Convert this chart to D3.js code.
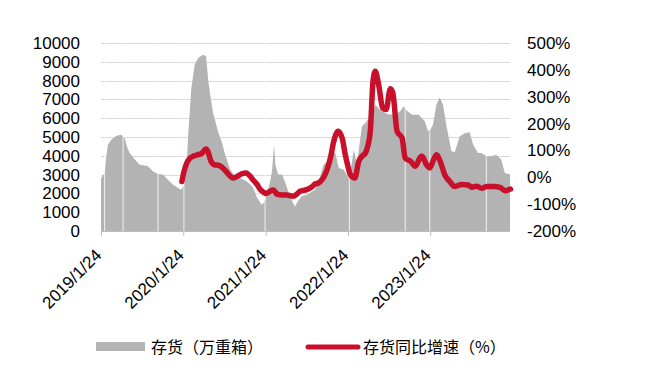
<!DOCTYPE html>
<html>
<head>
<meta charset="utf-8">
<script src="https://cdn.jsdelivr.net/npm/d3@7"></script>
<style>
    body { margin: 0; background: #fff; }
    .axis-label { font-family: "Liberation Sans", Arial, sans-serif; font-size: 17px; fill: #000; }
    .legend-text { font-family: "Noto Sans CJK SC", sans-serif; font-size: 16px; fill: #000; }
</style>
</head>
<body>
<div class="svg-container"></div>
<script>
// inventory (万重箱), roughly weekly readings
var invDates = ["2019-01-24","2019-02-09","2019-02-17","2019-02-24","2019-03-11","2019-04-02","2019-04-24","2019-05-09","2019-05-19","2019-05-31",
    "2019-06-23","2019-07-15","2019-08-06","2019-08-21","2019-09-12","2019-10-04","2019-10-26","2019-11-17","2019-12-10","2020-01-01",
    "2020-01-15","2020-01-27","2020-02-07","2020-02-14","2020-02-29","2020-03-15","2020-03-30","2020-04-21","2020-05-04","2020-05-14",
    "2020-05-22","2020-06-04","2020-06-26","2020-07-14","2020-07-27","2020-08-18","2020-09-10","2020-10-02","2020-10-24","2020-11-15",
    "2020-11-29","2020-12-16","2021-01-06","2021-01-16","2021-01-30","2021-02-12","2021-02-21","2021-03-02","2021-03-08","2021-03-20",
    "2021-04-06","2021-04-20","2021-05-07","2021-05-21","2021-06-03","2021-06-16","2021-07-03","2021-07-17","2021-07-31","2021-08-17",
    "2021-08-31","2021-09-16","2021-10-08","2021-10-23","2021-11-07","2021-11-29","2021-12-14","2022-01-05","2022-01-27","2022-02-07",
    "2022-02-19","2022-03-05","2022-03-18","2022-03-27","2022-04-11","2022-05-03","2022-05-25","2022-06-11","2022-06-24","2022-07-24",
    "2022-08-22","2022-09-13","2022-09-28","2022-10-13","2022-11-04","2022-12-04","2022-12-31","2023-01-14","2023-01-25","2023-02-05",
    "2023-02-20","2023-03-07","2023-03-22","2023-04-05","2023-04-28","2023-05-13","2023-06-04","2023-06-26","2023-07-18","2023-08-02",
    "2023-08-24","2023-09-08","2023-09-30","2023-10-22","2023-11-13","2023-12-05","2023-12-21","2024-01-13"];
var invValues = [2800,3100,4000,4600,4860,5070,5120,4950,4500,4150,
    3800,3530,3490,3440,3170,3030,3000,2730,2460,2290,
    2200,2460,3200,4950,7600,8850,9200,9380,9300,8000,
    7300,6300,5300,4700,4100,3300,2900,2800,2700,2500,
    2300,1800,1400,1500,2000,2600,3200,4600,3500,3000,
    3000,2600,2000,1600,1300,1600,1850,1900,1950,2100,
    2200,2640,3530,3700,4240,4150,3350,3260,2800,3400,
    4320,3500,4800,5570,5740,6100,6700,6500,6370,6200,
    6200,6370,6630,6400,6190,6190,5830,5300,5400,5650,
    6700,7100,6700,5650,4240,4200,5040,5200,5250,4600,
    4150,4150,3970,3970,4060,3800,3080,3000];

// weeks with no inventory reading (white gaps in the bars)
var gapDates = ["2019-02-09","2019-05-02","2019-10-04","2020-01-27","2021-01-21","2022-01-30","2022-10-05","2023-01-22","2023-09-30"];

// inventory yoy growth (%)
var yoyDates = ["2020-01-18","2020-01-27","2020-02-08","2020-02-23","2020-03-07","2020-03-24","2020-04-15","2020-05-04","2020-05-13","2020-05-26",
    "2020-06-13","2020-06-28","2020-07-13","2020-08-01","2020-08-18","2020-09-02","2020-09-23","2020-10-11","2020-10-28","2020-11-15",
    "2020-11-29","2020-12-15","2020-12-30","2021-01-13","2021-01-25","2021-02-12","2021-02-28","2021-03-15","2021-04-06","2021-04-28",
    "2021-05-26","2021-06-12","2021-06-25","2021-07-25","2021-08-16","2021-08-31","2021-09-13","2021-10-01","2021-10-14","2021-10-23",
    "2021-11-07","2021-11-22","2021-12-11","2021-12-29","2022-01-12","2022-01-24","2022-02-03","2022-02-23","2022-03-13","2022-03-27",
    "2022-04-11","2022-04-23","2022-05-03","2022-05-15","2022-05-25","2022-06-09","2022-06-27","2022-07-12","2022-07-31","2022-08-11",
    "2022-08-30","2022-09-21","2022-10-05","2022-10-28","2022-11-19","2022-12-11","2022-12-19","2023-01-07","2023-01-22","2023-02-05",
    "2023-02-21","2023-03-11","2023-03-29","2023-04-20","2023-05-13","2023-06-11","2023-07-11","2023-07-27","2023-08-18","2023-09-10",
    "2023-10-02","2023-10-31","2023-11-30","2023-12-22","2024-01-15"];
var yoyValues = [-16,20,52,71,78,83,89,105,95,60,
    46,45,38,22,5,-3,5,14,16,5,
    -10,-25,-45,-55,-60,-52,-47,-63,-66,-66,
    -71,-62,-52,-46,-36,-25,-22,-9,10,28,
    72,134,171,146,84,40,10,-3,60,78,
    90,120,171,357,395,345,258,252,330,314,
    171,146,72,60,41,75,78,47,35,60,
    84,55,10,-15,-34,-27,-29,-37,-33,-41,
    -34,-34,-38,-50,-44];

var xTickDates = ["2019-01-24","2020-01-24","2021-01-24","2022-01-24","2023-01-24"];
var leftTicks = [0,1000,2000,3000,4000,5000,6000,7000,8000,9000,10000];
var rightTicks = [-200,-100,0,100,200,300,400,500];
var legendNames = ["存货（万重箱）","存货同比增速（%）"];

function render() {
    var parse = d3.timeParse("%Y-%m-%d");
    var inv = invDates.map(function(d, i) { return {date: parse(d), value: invValues[i]}; });
    var yoy = yoyDates.map(function(d, i) { return {date: parse(d), value: yoyValues[i]}; });

    var width = 663, height = 375;
    var plotLeft = 101, plotRight = 512.5, plotTop = 43, plotBottom = 231;

    var svg = d3.select(".svg-container").append("svg")
        .attr("width", width)
        .attr("height", height);

    var x = d3.scaleTime()
        .domain([parse("2019-01-24"), parse("2024-01-24")])
        .range([plotLeft, plotRight]);
    var y = d3.scaleLinear().domain([0, 10000]).range([plotBottom, plotTop]);
    var y2 = d3.scaleLinear().domain([-200, 500]).range([plotBottom, plotTop]);

    var xEnd = x(inv[inv.length - 1].date);

    // gridlines
    svg.append("g")
        .selectAll("line")
        .data(leftTicks.slice(1))
        .enter().append("line")
        .attr("x1", plotLeft).attr("x2", xEnd)
        .attr("y1", function(d) { return Math.round(y(d)) + 0.5; })
        .attr("y2", function(d) { return Math.round(y(d)) + 0.5; })
        .attr("stroke", "#d9d9d9")
        .attr("stroke-width", 1)
        .attr("shape-rendering", "crispEdges");

    // inventory area
    var area = d3.area()
        .x(function(d) { return x(d.date); })
        .y0(y(0))
        .y1(function(d) { return y(d.value); });

    svg.append("path")
        .datum(inv)
        .attr("d", area)
        .attr("fill", "#b3b3b3");

    // white gaps between bars
    svg.append("g")
        .selectAll("line")
        .data(gapDates)
        .enter().append("line")
        .attr("x1", function(d) { return x(parse(d)); })
        .attr("x2", function(d) { return x(parse(d)); })
        .attr("y1", y(0))
        .attr("y2", plotTop)
        .attr("stroke", "#fff")
        .attr("stroke-width", 0.8);

    // x axis
    var xAxis = svg.append("g")
        .attr("transform", "translate(0," + plotBottom + ")")
        .call(d3.axisBottom(x)
            .tickValues(xTickDates.map(parse))
            .tickSize(5)
            .tickFormat(d3.timeFormat("%Y/%-m/%d")));
    xAxis.select(".domain").attr("stroke", "#bfbfbf").attr("d", "M" + plotLeft + ",0.5H" + xEnd);
    xAxis.selectAll(".tick line").attr("stroke", "#bfbfbf");
    xAxis.selectAll(".tick text")
        .attr("class", "axis-label")
        .style("font-size", "17px")
        .attr("text-anchor", "end")
        .attr("transform", "translate(-3,21) rotate(-45)")
        .attr("dy", "0.35em")
        .attr("y", 0)
        .attr("x", 0);

    // left axis labels
    svg.append("g")
        .selectAll("text")
        .data(leftTicks)
        .enter().append("text")
        .attr("class", "axis-label")
        .attr("x", 80)
        .attr("y", function(d) { return y(d); })
        .attr("dy", "0.35em")
        .attr("text-anchor", "end")
        .text(function(d) { return d; });

    // right axis labels
    svg.append("g")
        .selectAll("text")
        .data(rightTicks)
        .enter().append("text")
        .attr("class", "axis-label")
        .attr("x", 527)
        .attr("y", function(d) { return y2(d); })
        .attr("dy", "0.35em")
        .attr("text-anchor", "start")
        .text(function(d) { return d + "%"; });

    // yoy line
    var line = d3.line()
        .x(function(d) { return x(d.date); })
        .y(function(d) { return y2(d.value); })
        .curve(d3.curveMonotoneX);

    svg.append("path")
        .datum(yoy)
        .attr("d", line)
        .attr("fill", "none")
        .attr("stroke", "#c8102a")
        .attr("stroke-width", 5.5)
        .attr("stroke-linejoin", "round")
        .attr("stroke-linecap", "round");

    // legend
    var lg = svg.append("g");
    lg.append("rect")
        .attr("x", 96).attr("y", 342)
        .attr("width", 49).attr("height", 9)
        .attr("fill", "#b3b3b3");
    lg.append("text")
        .attr("class", "legend-text")
        .attr("x", 151).attr("y", 347)
        .attr("dy", "0.35em")
        .text(legendNames[0]);
    lg.append("line")
        .attr("x1", 308).attr("x2", 358)
        .attr("y1", 347).attr("y2", 347)
        .attr("stroke", "#c8102a")
        .attr("stroke-width", 5)
        .attr("stroke-linecap", "round");
    lg.append("text")
        .attr("class", "legend-text")
        .attr("x", 363).attr("y", 347)
        .attr("dy", "0.35em")
        .text(legendNames[1]);
}

render();
</script>
</body>
</html>
